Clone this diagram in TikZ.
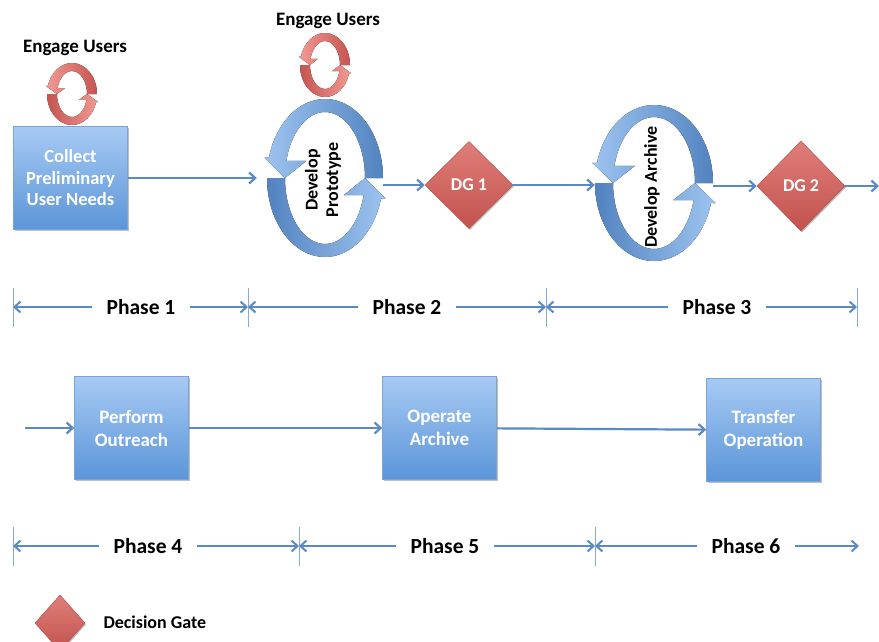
\documentclass[tikz,border=0pt]{standalone}
\usepackage{fontspec}
\setmainfont{Carlito}
\usetikzlibrary{shapes.geometric,arrows.meta,shadows}

\definecolor{boxtop}{HTML}{A7CAF3}
\definecolor{boxbot}{HTML}{5B95D9}
\definecolor{boxedge}{HTML}{7AA4D8}
\definecolor{linkblue}{HTML}{5A8AC6}
\definecolor{tickblue}{HTML}{86AAD8}
\definecolor{ringlight}{HTML}{9EC4F0}
\definecolor{ringdark}{HTML}{5283C0}
\definecolor{redlight}{HTML}{F29A94}
\definecolor{reddark}{HTML}{C65450}
\definecolor{gatetop}{HTML}{E07E79}
\definecolor{gatebot}{HTML}{C2524E}
\definecolor{gateedge}{HTML}{B8504C}

% Two-part circular arrow ribbon: centre, outer radii, inner radii, light/dark colours
\newcommand\ringarrows[7]{%
  \begin{scope}[shift={#1}]
    \pgfmathsetmacro\eo{0.08*#2}%
    \pgfmathsetmacro\ei{0.5*#4}%
    % lower half, arrowhead pointing up on the right
    \fill[left color=#7, right color=#6]
      (180:#2 and #3) arc[start angle=180, end angle=15, x radius=#2, y radius=#3]
      -- ([xshift=\eo pt]15:#2 and #3) -- (0:#4 and #5)
      -- ([xshift=-\ei pt]15:#4 and #5) -- (15:#4 and #5)
      arc[start angle=15, end angle=180, x radius=#4, y radius=#5] -- cycle;
    % upper half, arrowhead pointing down on the left
    \fill[left color=#6, right color=#7]
      (0:#2 and #3) arc[start angle=0, end angle=-165, x radius=#2, y radius=#3]
      -- ([xshift=-\eo pt]-165:#2 and #3) -- (180:#4 and #5)
      -- ([xshift=\ei pt]-165:#4 and #5) -- (-165:#4 and #5)
      arc[start angle=-165, end angle=0, x radius=#4, y radius=#5] -- cycle;
  \end{scope}}

\tikzset{
  softshadow/.style={drop shadow={shadow xshift=1pt, shadow yshift=-1.5pt, fill=black, opacity=0.25}},
  flowbox/.style={draw=boxedge, line width=0.6pt, top color=boxtop, bottom color=boxbot,
    text=white, align=center, inner sep=0pt, minimum width=114pt, minimum height=103pt, softshadow},
  gate/.style={shape=diamond, draw=gateedge, line width=0.5pt, top color=gatetop, bottom color=gatebot,
    text=white, inner sep=0pt, font=\fontsize{18}{20}\selectfont\bfseries, softshadow},
  link/.style={draw=linkblue, line width=2.2pt, -{Straight Barb[length=6pt,width=11pt]}},
  span/.style={draw=linkblue, line width=2pt, -{Straight Barb[length=6pt,width=11pt]}},
  tickmark/.style={draw=tickblue, line width=1pt},
  phase/.style={font=\fontsize{21.5}{24}\selectfont\bfseries, inner xsep=14pt, inner ysep=2pt},
  label/.style={font=\fontsize{19}{22}\selectfont\bfseries},
  lowbox/.style={flowbox, font=\fontsize{19}{23}\selectfont\bfseries},
}

\begin{document}
\begin{tikzpicture}[x=1pt, y=-1pt]
\useasboundingbox[fill=white] (0,0) rectangle (879,641);

% ---- upper process line ----
\node[label] (eu1) at (75,48) {Engage Users};
\ringarrows{(72,94)}{25}{31}{15}{23}{redlight}{reddark}

\node[flowbox, font=\fontsize{18.5}{21.5}\selectfont\bfseries] (collect) at (70.5,178)
  {Collect\\Preliminary\\User Needs};

\node[label] (eu2) at (328,21) {Engage Users};
\ringarrows{(325,65)}{25}{32}{15}{24}{redlight}{reddark}

\ringarrows{(325,178)}{58}{79}{40}{66}{ringlight}{ringdark}
\node[minimum width=116pt, minimum height=158pt, inner sep=0pt] (proto) at (325,178) {};
\node[rotate=90, align=center, font=\fontsize{18}{20.5}\selectfont\bfseries] (prototext) at (323,180)
  {Develop\\Prototype};

\node[gate, minimum width=88pt, minimum height=87pt] (dg1) at (469,185) {DG 1};

\ringarrows{(654,183)}{59}{78}{41}{66}{ringlight}{ringdark}
\node[minimum width=118pt, minimum height=156pt, inner sep=0pt] (arch) at (654,183) {};
\node[rotate=90, font=\fontsize{18}{20}\selectfont\bfseries] (archtext) at (652,187) {Develop Archive};

\node[gate, minimum width=88pt, minimum height=90pt] (dg2) at (801,186) {DG 2};
\coordinate (exit) at (879,186);

\draw[link, shorten >=10pt] (collect) -- (proto.west);
\draw[link] (proto.east |- dg1) -- (dg1.west);
\draw[link] (dg1.east) -- (arch.west |- dg1);
\draw[link] (arch.east |- dg2) -- (dg2.west);
\draw[link] (dg2.east) -- (exit);

% ---- phases 1 to 3 ----
\coordinate (a0) at (13,307);
\coordinate (a1) at (248,307);
\coordinate (a2) at (546,307);
\coordinate (a3) at (857,307);
\foreach \t in {a0,a1,a2,a3}
  \draw[tickmark] ([yshift=19pt]\t) -- ([yshift=-20pt]\t);
\node[phase] (ph1) at (141,307) {Phase 1};
\node[phase] (ph2) at (407,307) {Phase 2};
\node[phase] (ph3) at (717,307) {Phase 3};
\draw[span] (ph1) -- (a0);  \draw[span] (ph1) -- (a1);
\draw[span] (ph2) -- (a1);  \draw[span] (ph2) -- (a2);
\draw[span] (ph3) -- (a2);  \draw[span] (ph3) -- (a3);

% ---- lower process line ----
\coordinate (entry) at (25,428);
\node[lowbox] (outreach) at (131.5,428) {Perform\\Outreach};
\node[lowbox] (operate) at (439.5,428) {Operate\\Archive};
\node[lowbox] (transfer) at (763.5,430) {Transfer\\Operation};
\draw[link] (entry) -- (outreach);
\draw[link] (outreach) -- (operate);
\draw[link] (operate) -- (transfer);

% ---- phases 4 to 6 ----
\coordinate (b0) at (13,546);
\coordinate (b1) at (299,546);
\coordinate (b2) at (595,546);
\coordinate (b3) at (859,546);
\foreach \t in {b0,b1,b2}
  \draw[tickmark] ([yshift=19pt]\t) -- ([yshift=-20pt]\t);
\node[phase] (ph4) at (148,546) {Phase 4};
\node[phase] (ph5) at (445,546) {Phase 5};
\node[phase] (ph6) at (746,546) {Phase 6};
\draw[span] (ph4) -- (b0);  \draw[span] (ph4) -- (b1);
\draw[span] (ph5) -- (b1);  \draw[span] (ph5) -- (b2);
\draw[span] (ph6) -- (b2);  \draw[span] (ph6) -- (b3);

% ---- legend ----
\node[gate, minimum width=50pt, minimum height=56pt] (legendgate) at (60,623) {};
\node[anchor=west, font=\fontsize{18}{20}\selectfont\bfseries] (legendtext) at (100,622) {Decision Gate};
\end{tikzpicture}
\end{document}
